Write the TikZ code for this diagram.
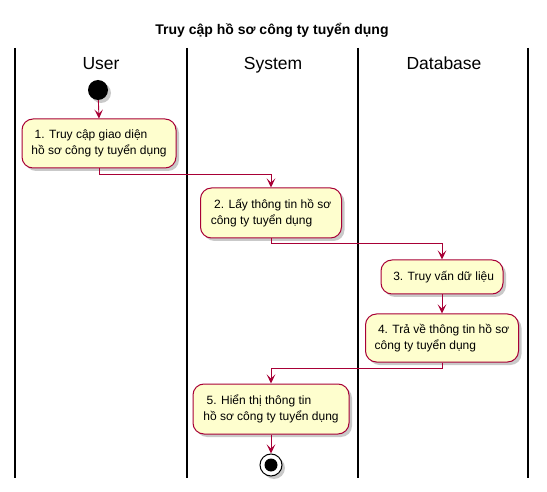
\documentclass[tikz,border=0pt]{standalone}
\usepackage{fontspec}
\setmainfont{Liberation Sans}
\usetikzlibrary{arrows.meta,shadows,positioning}
\definecolor{pufill}{HTML}{FEFECE}
\definecolor{puline}{HTML}{A80036}
\tikzset{
  actbox/.style={draw=puline, fill=pufill, line width=1pt, rounded corners=11pt,
    align=left, font=\fontsize{12}{15.5}\selectfont, inner sep=0pt,
    drop shadow={shadow xshift=3pt, shadow yshift=-3pt, opacity=0.35, fill=black!60}},
  flow/.style={draw=puline, line width=0.9pt, -{Stealth[length=9pt,width=8.5pt,inset=4pt]}},
  lane/.style={draw=black, line width=1.4pt},
  lanehead/.style={font=\fontsize{17.5}{20}\selectfont, anchor=base},
}
\begin{document}
\begin{tikzpicture}[x=1pt,y=-1pt]
\useasboundingbox (0,0) rectangle (547,492);
\fill[white] (0,0) rectangle (547,492);
\node[font=\bfseries\fontsize{14}{16}\selectfont, anchor=base] (title) at (272,35) {Truy cập hồ sơ công ty tuyển dụng};
% lanes
\coordinate (l0t) at (15,48); \coordinate (l0b) at (15,478);
\coordinate (l1t) at (187,48); \coordinate (l1b) at (187,478);
\coordinate (l2t) at (358,48); \coordinate (l2b) at (358,478);
\coordinate (l3t) at (528,48); \coordinate (l3b) at (528,478);
\draw[lane] (l0t) -- (l0b);
\draw[lane] (l1t) -- (l1b);
\draw[lane] (l2t) -- (l2b);
\draw[lane] (l3t) -- (l3b);
\node[lanehead] (huser) at (101,70) {User};
\node[lanehead] (hsys) at (273,70) {System};
\node[lanehead] (hdb) at (444,70) {Database};
% start
\node[circle, fill=black, minimum size=20pt, inner sep=0pt,
  drop shadow={shadow xshift=3pt, shadow yshift=-3pt, opacity=0.35, fill=black!60}] (start) at (98,90) {};
% boxes
\node[actbox, minimum width=154pt, minimum height=49pt] (b1) at (99,143.5) {\ 1. Truy cập giao diện\\hồ sơ công ty tuyển dụng};
\node[actbox, minimum width=141pt, minimum height=50pt] (b2) at (271,213) {\ 2. Lấy thông tin hồ sơ\\công ty tuyển dụng};
\node[actbox, minimum width=122pt, minimum height=34pt] (b3) at (442,277) {\ 3. Truy vấn dữ liệu};
\node[actbox, minimum width=153pt, minimum height=48pt] (b4) at (442,338) {\ 4. Trả về thông tin hồ sơ\\công ty tuyển dụng};
\node[actbox, minimum width=156pt, minimum height=50pt] (b5) at (271,409) {\ 5. Hiển thị thông tin\\hồ sơ công ty tuyển dụng};
% end
\node[circle, draw=black, fill=white, line width=1pt, minimum size=22pt, inner sep=0pt,
  drop shadow={shadow xshift=3pt, shadow yshift=-3pt, opacity=0.35, fill=black!60}] (stop) at (271,465) {};
\node[circle, fill=black, minimum size=13pt, inner sep=0pt] (stopin) at (stop.center) {};
% flows
\draw[flow] (start) -- (b1.north);
\draw[flow] (b1.south) -- ++(0,6) -| (b2.north);
\draw[flow] (b2.south) -- ++(0,5) -| (b3.north);
\draw[flow] (b3.south) -- (b4.north);
\draw[flow] (b4.south) -- ++(0,6) -| (b5.north);
\draw[flow] (b5.south) -- (stop.north);
\end{tikzpicture}
\end{document}
